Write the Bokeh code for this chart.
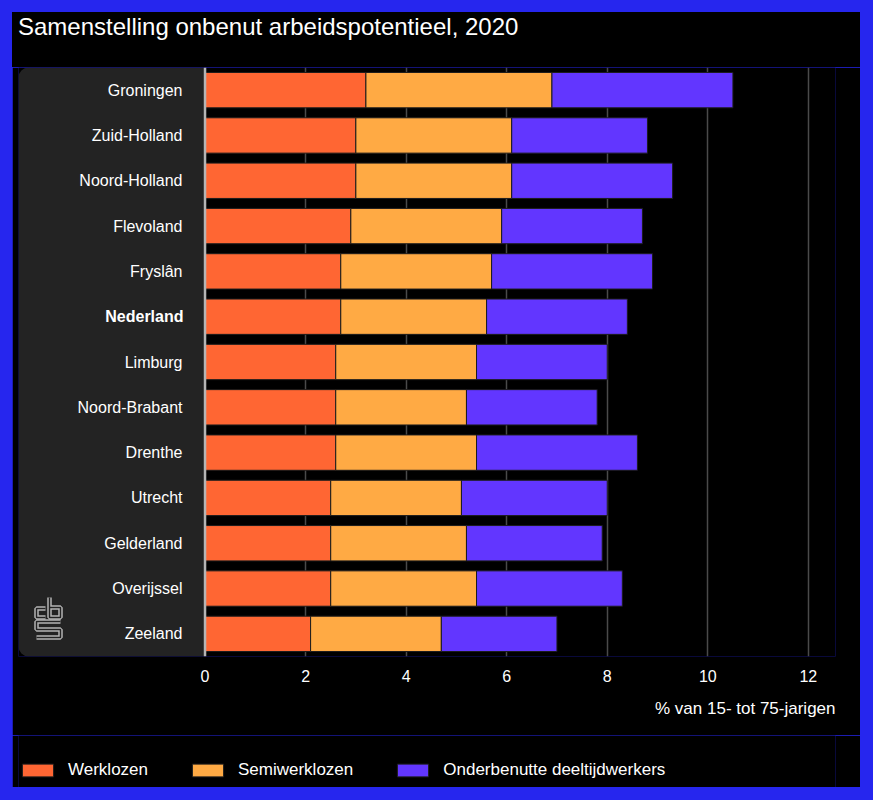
from bokeh.plotting import figure
from bokeh.layouts import column
from bokeh.models import (FactorRange, Range1d, FixedTicker, Legend, LegendItem, Title, Div,
                          BoxAnnotation, Span, ColumnDataSource, GlobalInlineStyleSheet,
                          CustomJSTickFormatter)
from bokeh.core.properties import value
from bokeh.embed import file_html
from bokeh.resources import INLINE

# ---- data -------------------------------------------------------------
regions = ["Groningen", "Zuid-Holland", "Noord-Holland", "Flevoland", "Fryslân",
           "Nederland", "Limburg", "Noord-Brabant", "Drenthe", "Utrecht",
           "Gelderland", "Overijssel", "Zeeland"]
werklozen = [3.2, 3.0, 3.0, 2.9, 2.7, 2.7, 2.6, 2.6, 2.6, 2.5, 2.5, 2.5, 2.1]
semiwerklozen = [3.7, 3.1, 3.1, 3.0, 3.0, 2.9, 2.8, 2.6, 2.8, 2.6, 2.7, 2.9, 2.6]
onderbenut = [3.6, 2.7, 3.2, 2.8, 3.2, 2.8, 2.6, 2.6, 3.2, 2.9, 2.7, 2.9, 2.3]
series_names = ["Werklozen", "Semiwerklozen", "Onderbenutte deeltijdwerkers"]
x_ticks = [0, 2, 4, 6, 8, 10, 12]
title_text = "Samenstelling onbenut arbeidspotentieel, 2020"
x_label = "% van 15- tot 75-jarigen"
highlight = "Nederland"

# ---- styling / layout -------------------------------------------------
colors = ["#ff6633", "#ffaa44", "#6236ff"]
FONT = "Liberation Sans"
W = 848                      # inner black area width
TITLE_H = 55
H = 668                      # main figure height
LEG_H = 52                   # legend strip height
FL, FR, FB = 6, 823, 589     # frame left / right / bottom inside the figure
X0, X_END = -3.71, 12.54     # x range: left part hosts the label panel
FRAME_W, FRAME_H = FR - FL, FB

source = ColumnDataSource(dict(region=regions, w=werklozen, s=semiwerklozen, o=onderbenut))

p = figure(width=W, height=H, output_backend="svg", toolbar_location=None, title=None,
           y_range=FactorRange(factors=regions[::-1]),
           x_range=Range1d(X0, X_END),
           min_border_left=FL, min_border_right=W - FR,
           min_border_top=0, min_border_bottom=H - FB,
           background_fill_color="black", border_fill_color="black",
           outline_line_color=None)

# dark rounded panel behind the category labels
p.add_layout(BoxAnnotation(right=0, fill_color="#232323", fill_alpha=1, line_color=None,
                           border_radius=dict(top_left=10, top_right=0, bottom_right=0, bottom_left=10),
                           level="underlay"))

rs = p.hbar_stack(["w", "s", "o"], y="region", height=0.78, source=source,
                  fill_color=colors, line_color="#1c1c1c", line_width=1)

# baseline at zero
p.add_layout(Span(location=0, dimension="height", line_color="#b5b5b5", line_width=2.5))

# x axis
p.xaxis.ticker = FixedTicker(ticks=x_ticks)
p.xaxis.major_label_text_color = "white"
p.xaxis.major_label_text_font = FONT
p.xaxis.major_label_text_font_size = "16px"
p.xaxis.axis_line_color = None
p.xaxis.major_tick_line_color = None
p.xaxis.minor_tick_line_color = None
p.xaxis.major_label_standoff = 7

# y axis: labels pulled inside the panel
label_right = 165               # px from frame left to the right edge of the labels
p.yaxis.major_label_text_color = "white"
p.yaxis.major_label_text_font = FONT
p.yaxis.major_label_text_font_size = "16px"
p.yaxis.axis_line_color = None
p.yaxis.major_tick_line_color = None
p.yaxis.minor_tick_line_color = None
p.yaxis.major_label_standoff = -(label_right + 5)
p.yaxis.formatter = CustomJSTickFormatter(args=dict(h=highlight),
                                          code="return tick == h ? '' : tick;")

# bold label for the national total
px_per_unit = FRAME_W / (X_END - X0)
p.text(x=[X0 + label_right / px_per_unit], y=[highlight], text=[highlight],
       text_align="right", text_baseline="middle", text_color="white",
       text_font=value(FONT), text_font_size="16px", text_font_style="bold")

p.xgrid.ticker = FixedTicker(ticks=x_ticks[1:])
p.xgrid.grid_line_color = "#4a4a4a"
p.xgrid.grid_line_width = 1.5
p.ygrid.grid_line_color = None

# small logo in the panel: shape in pixels (from frame bottom-left), mapped to the scales
px_per_row = FRAME_H / len(regions)
logo_px_x = [[27, 18, 18, 27], [31, 31, 42, 42, 31], [42, 18, 18, 42, 42, 18]]
logo_px_y = [[48, 48, 39, 39], [59, 39, 39, 49, 49], [35, 35, 27, 27, 19, 19]]
logo_xs = [[X0 + v / px_per_unit for v in row] for row in logo_px_x]
logo_ys = [[v / px_per_row for v in row] for row in logo_px_y]
p.multi_line(xs=logo_xs, ys=logo_ys, line_color="#b4b4b4", line_width=4.5)
p.multi_line(xs=logo_xs, ys=logo_ys, line_color="#232323", line_width=1.5)

# x-axis label, right aligned under the axis
p.add_layout(Title(text=x_label, align="right", text_color="white", text_font=FONT,
                   text_font_size="17px", text_font_style="normal", standoff=24), "below")

# legend strip (separate small plot so the legend sits inside a frame);
# the proxy bars lie outside the visible range and only provide the swatches
lg = figure(width=W, height=LEG_H, output_backend="svg", toolbar_location=None, title=None,
            x_range=Range1d(0, 1), y_range=Range1d(0, 1),
            x_axis_location=None, y_axis_location=None,
            min_border_left=0, min_border_right=0, min_border_top=0, min_border_bottom=0,
            background_fill_color="black", border_fill_color="black", outline_line_color=None)
lg.xgrid.visible = False
lg.ygrid.visible = False
swatches = [lg.hbar(y=[-5], left=[0], right=[0], height=0.5, fill_color=c,
                    line_color="#1c1c1c", line_width=1)
            for c in colors]
legend = Legend(items=[LegendItem(label=series_names[i], renderers=[swatches[i]]) for i in range(3)],
                orientation="horizontal", location=(0, 7),
                glyph_width=39, glyph_height=16, label_standoff=11, spacing=40,
                padding=0, margin=0, border_line_color=None, background_fill_alpha=0,
                label_text_color="white", label_text_font=FONT, label_text_font_size="17px")
lg.add_layout(legend)

title = Div(text=title_text, width=W, height=TITLE_H,
            styles={"background-color": "black", "color": "white", "font-family": FONT,
                    "font-size": "24px", "line-height": "1", "padding-left": "6px",
                    "padding-top": "3px", "box-sizing": "border-box", "margin": "0",
                    "border": "none"})

page_css = GlobalInlineStyleSheet(css="""
html, body { background-color: #2626ee !important; }
body { padding: 12px 13px 13px 12px !important; }
""")
layout = column(title, p, lg, spacing=0)
layout.stylesheets = [page_css]

open("out.html", "w").write(file_html(layout, INLINE))
